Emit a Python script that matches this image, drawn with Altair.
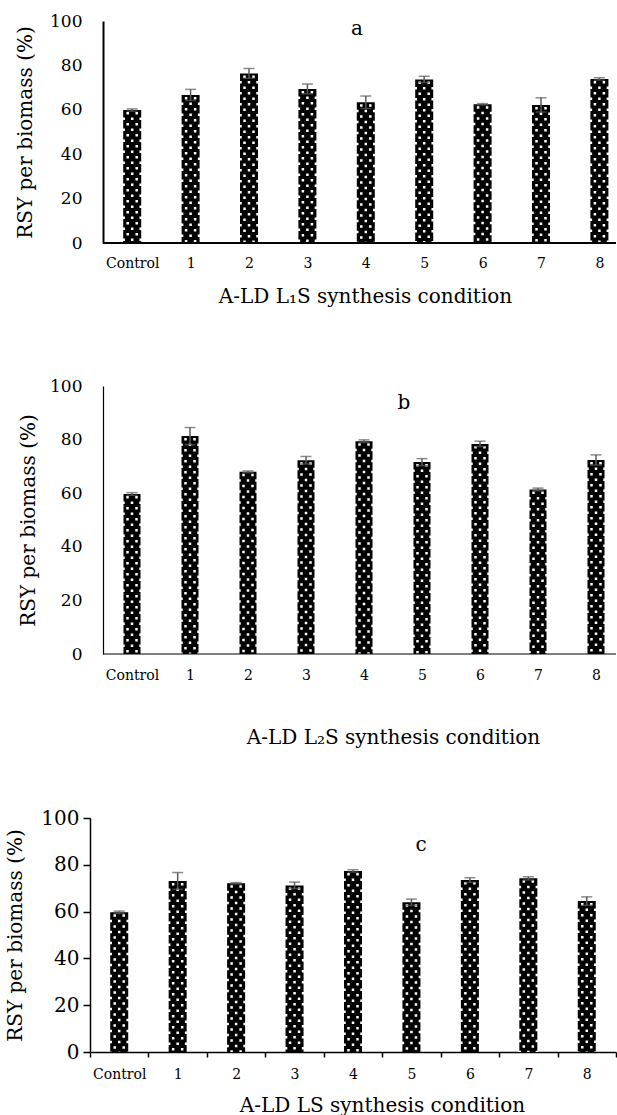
import altair as alt
import pandas as pd

categories = ["Control", "1", "2", "3", "4", "5", "6", "7", "8"]

rsy_a = [59.9, 66.7, 76.4, 69.4, 63.4, 73.7, 62.5, 62.2, 73.9]
err_a = [0.5, 2.5, 2.2, 2.2, 2.8, 1.4, 0.3, 3.2, 0.5]

rsy_b = [59.7, 81.3, 68.0, 72.3, 79.4, 71.6, 78.4, 61.4, 72.4]
err_b = [0.5, 3.2, 0.3, 1.4, 0.5, 1.3, 1.0, 0.5, 1.9]

rsy_c = [59.7, 73.1, 72.1, 71.2, 77.4, 64.0, 73.5, 74.2, 64.5]
err_c = [0.5, 3.6, 0.3, 1.4, 0.5, 1.35, 1.0, 0.7, 1.8]

y_ticks = [0, 20, 40, 60, 80, 100]
y_title = "RSY per biomass (%)"
x_titles = ["A-LD L\u2081S synthesis condition",
            "A-LD L\u2082S synthesis condition",
            "A-LD LS synthesis condition"]
letters = ["a", "b", "c"]

FONT = "DejaVu Serif"
PLOT_W = 526
EB = "#5a5a5a"


def panel(vals, errs, letter, letter_xy, xtitle, xtitle_xy, height, y_top,
          step, bar_w, shift, ylab_size, ylab_pad, ytitle_x, ticks, line_w,
          xlab_pad):
    df = pd.DataFrame({
        "cond": categories,
        "rsy": vals,
        "lo": [v - e for v, e in zip(vals, errs)],
        "hi": [v + e for v, e in zip(vals, errs)],
    })
    xs = alt.Scale(domain=categories, range=[shift, shift + 9 * step],
                   paddingInner=0, paddingOuter=0)
    xaxis = alt.Axis(
        title=xtitle, labelAngle=0, labelFont=FONT, labelFontSize=14,
        labelColor="black", labelBaseline="middle", labelPadding=xlab_pad,
        titleFont=FONT, titleFontSize=20, titleFontWeight="normal",
        titleColor="black", titleX=xtitle_xy[0], titleY=xtitle_xy[1],
        titleAlign="center", titleBaseline="middle",
        ticks=ticks, tickSize=5 if ticks else 0, tickColor="black",
        tickWidth=line_w, tickBand="extent",
        domain=ticks, domainColor="black", domainWidth=line_w,
        grid=False, labelOverlap=False)
    X = alt.X("cond:N", sort=categories, scale=xs, axis=xaxis)

    ys = alt.Scale(domain=[0, 100], range=[height, y_top], nice=False)
    yaxis = alt.Axis(
        title=y_title, values=y_ticks, labelFont=FONT, labelFontSize=ylab_size,
        labelColor="black", labelPadding=ylab_pad, labelFlush=False,
        ticks=ticks, tickSize=7 if ticks else 0, tickColor="black",
        tickWidth=line_w, domainColor="black", domainWidth=line_w,
        grid=False, offset=-shift,
        titleFont=FONT, titleFontSize=20, titleFontWeight="normal",
        titleColor="black", titleAngle=270, titleAlign="center",
        titleBaseline="middle", titleX=ytitle_x, titleY=(height + y_top) / 2)

    def Y(field):
        return alt.Y(f"{field}:Q", scale=ys, axis=yaxis)

    base = alt.Chart(df)
    layers = [base.mark_bar(size=bar_w, color="black").encode(x=X, y=Y("rsy"))]

    # dotted fill pattern drawn as dashed white rules inside each bar
    for off, dash_off in [(-4.5, 9), (4.5, 9), (-8.5, 3.5), (0, 3.5), (8.5, 3.5)]:
        layers.append(
            base.mark_rule(xOffset=off, color="white", strokeWidth=2.5,
                           strokeDash=[2.5, 8.5], strokeDashOffset=dash_off,
                           strokeCap="butt")
            .encode(x=X, y=Y("rsy"), y2=alt.datum(0)))

    layers.append(base.mark_rule(color=EB, strokeWidth=1.5)
                  .encode(x=X, y=Y("lo"), y2="hi"))
    layers.append(base.mark_tick(color=EB, thickness=1.5, size=11)
                  .encode(x=X, y=Y("hi")))
    layers.append(base.mark_tick(color=EB, thickness=1.5, size=11)
                  .encode(x=X, y=Y("lo")))

    if not ticks:
        one = alt.Chart(pd.DataFrame({"k": [0]}))
        layers.append(one.mark_rule(color="black", strokeWidth=line_w)
                      .encode(x=alt.value(shift), x2=alt.value("width"),
                              y=alt.datum(0)))

    txt = alt.Chart(pd.DataFrame({"t": [letter]})).mark_text(
        font=FONT, fontSize=20, color="black", baseline="middle", align="center"
    ).encode(text="t:N", x=alt.value(letter_xy[0]), y=alt.value(letter_xy[1]))
    layers.append(txt)

    return alt.layer(*layers).properties(width=PLOT_W, height=height)


pa = panel(rsy_a, err_a, letters[0], (267, 8), x_titles[0], (275, 53),
           height=222, y_top=0, step=58.4, bar_w=18, shift=13,
           ylab_size=17, ylab_pad=21, ytitle_x=-78, ticks=False, line_w=2,
           xlab_pad=20)
pb = panel(rsy_b, err_b, letters[1], (314, 17), x_titles[1], (303, 83),
           height=268, y_top=0, step=58.0, bar_w=17, shift=13,
           ylab_size=17, ylab_pad=21, ytitle_x=-75, ticks=False, line_w=1.2,
           xlab_pad=21)
pc = panel(rsy_c, err_c, letters[2], (331, 48), x_titles[2], (292, 53),
           height=255, y_top=21, step=PLOT_W / 9, bar_w=18, shift=0,
           ylab_size=20, ylab_pad=4, ytitle_x=-75, ticks=True, line_w=1.5,
           xlab_pad=17)

chart = alt.vconcat(pa, pb, pc, spacing=143, bounds="flush").properties(
    padding={"left": 5, "top": 12, "right": 0, "bottom": 0}
).configure_view(stroke=None)

chart.save("out.html", embed_options={"renderer": "svg", "actions": False})
